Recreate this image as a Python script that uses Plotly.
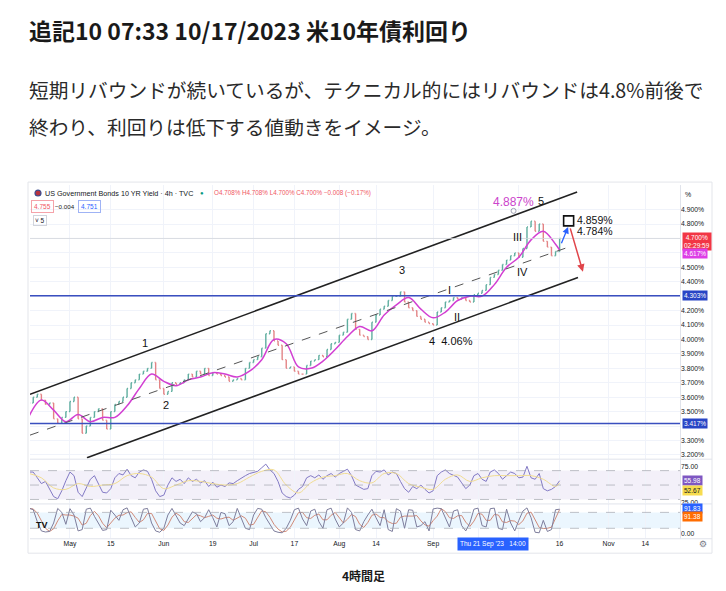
import plotly.graph_objects as go
import pandas as pd

# trading days on the 4h chart (weekends are skipped by the time scale)
days = pd.bdate_range("2023-04-17", "2023-10-16")

# daily closes (%)
closes = [
    3.56, 3.60, 3.62, 3.58, 3.55, 3.56, 3.45, 3.42, 3.46, 3.50,
    3.57, 3.60, 3.45, 3.35, 3.40, 3.46, 3.50, 3.52, 3.44, 3.38,
    3.50, 3.55, 3.57, 3.60, 3.66, 3.70, 3.72, 3.76, 3.78, 3.80,
    3.84, 3.72, 3.66, 3.62, 3.64, 3.70, 3.69, 3.70, 3.72, 3.76,
    3.74, 3.78, 3.76, 3.80, 3.75, 3.77, 3.76, 3.75, 3.74, 3.71,
    3.72, 3.73, 3.72, 3.80, 3.84, 3.86, 3.88, 3.94, 4.04, 4.06,
    3.99, 3.96, 3.86, 3.80, 3.81, 3.78, 3.76, 3.76, 3.82, 3.85,
    3.86, 3.89, 3.88, 3.93, 3.97, 3.98, 4.03, 4.05, 4.14, 4.18,
    4.07, 4.03, 4.02, 4.00, 4.12, 4.17, 4.21, 4.23, 4.27, 4.30,
    4.30, 4.33, 4.26, 4.22, 4.20, 4.16, 4.14, 4.12, 4.11, 4.10,
    4.19, 4.22, 4.26, 4.27, 4.29, 4.28, 4.29, 4.27, 4.26, 4.31,
    4.32, 4.34, 4.38, 4.43, 4.45, 4.48, 4.52, 4.55, 4.58, 4.60,
    4.57, 4.63, 4.78, 4.82, 4.75, 4.80, 4.68, 4.64, 4.58, 4.61, 4.70,
]
first_open = 3.55

# magenta moving average, every 3rd trading day + last bar
ma_values = [
    3.47, 3.58, 3.51, 3.43, 3.48, 3.43, 3.46, 3.46, 3.54, 3.66,
    3.76, 3.71, 3.68, 3.72, 3.74, 3.77, 3.76, 3.74, 3.78, 3.86,
    4.00, 3.97, 3.81, 3.80, 3.85, 3.93, 4.02, 4.09, 4.06, 4.17,
    4.24, 4.29, 4.21, 4.15, 4.19, 4.27, 4.30, 4.30, 4.38, 4.50,
    4.57, 4.69, 4.75, 4.66, 4.62,
]

rsi = [
    68, 68, 60, 52, 55, 44, 34, 31, 42, 56,
    68, 63, 40, 34, 46, 58, 63, 52, 40, 39,
    45, 60, 66, 64, 72, 63, 60, 68, 71, 69,
    58, 42, 34, 36, 50, 60, 55, 58, 52, 60,
    55, 58, 53, 56, 48, 54, 47, 50, 48, 53,
    52, 56, 60, 63, 66, 68, 69, 74, 79, 71,
    66, 55, 39, 34, 32, 36, 44, 48, 60, 63,
    60, 64, 58, 63, 66, 61, 66, 69, 72, 63,
    50, 47, 44, 45, 63, 69, 68, 71, 64, 68,
    66, 55, 45, 40, 48, 45, 50, 44, 39, 42,
    63, 68, 71, 66, 63, 61, 53, 45, 50, 63,
    66, 58, 55, 68, 71, 66, 58, 63, 68, 66,
    60, 61, 76, 60, 58, 66, 45, 42, 44, 48, 56,
]
rsi_ma = [
    66, 60, 46, 44, 52, 48, 50, 52, 63, 66,
    61, 45, 50, 56, 55, 52, 50, 52, 61, 69,
    71, 50, 39, 53, 61, 63, 66, 56, 53, 66,
    66, 52, 47, 44, 58, 64, 55, 60, 63, 63,
    63, 63, 58, 48, 53,
]

stoch_k = [
    96, 90, 45, 10, 6, 8, 40, 95, 80, 35,
    94, 70, 10, 15, 92, 96, 65, 40, 12, 15,
    88, 70, 50, 90, 97, 60, 25, 40, 92, 95,
    40, 10, 5, 20, 70, 95, 65, 40, 30, 55,
    82, 75, 45, 60, 90, 60, 25, 80, 75, 30,
    45, 95, 60, 20, 15, 70, 95, 92, 60, 35,
    10, 5, 3, 20, 50, 90, 96, 55, 30, 85,
    92, 45, 20, 90, 96, 55, 25, 40, 97, 80,
    15, 10, 45, 70, 92, 60, 30, 90, 15, 8,
    94, 85, 20, 90, 88, 25, 30, 45, 10, 93,
    96, 94, 60, 25, 85, 90, 30, 10, 40, 92,
    96, 30, 25, 94, 96, 20, 15, 92, 40, 10,
    50, 85, 97, 60, 5, 3, 50, 8, 15, 90, 92,
]
stoch_d = [
    94, 93, 77, 48, 20, 8, 18, 48, 72, 70,
    70, 66, 58, 32, 39, 68, 84, 67, 39, 22,
    38, 58, 69, 70, 79, 82, 61, 42, 52, 76,
    76, 48, 18, 12, 32, 62, 77, 67, 45, 42,
    56, 71, 67, 60, 65, 70, 58, 55, 60, 62,
    50, 57, 67, 58, 32, 35, 60, 86, 82, 62,
    35, 17, 6, 9, 24, 53, 79, 80, 60, 57,
    69, 74, 52, 52, 69, 80, 59, 40, 54, 72,
    64, 35, 23, 42, 69, 74, 61, 60, 45, 38,
    39, 62, 66, 65, 66, 68, 48, 33, 28, 49,
    66, 94, 83, 60, 57, 67, 68, 43, 27, 47,
    76, 73, 50, 50, 72, 70, 44, 42, 49, 47,
    34, 48, 77, 81, 54, 23, 19, 20, 24, 60, 91,
]

# drawn trend channel: (start, start value, end, end value)
channel_upper = ("2023-04-17 05:00", 3.620, "2023-10-20 07:00", 5.022)
channel_lower = ("2023-05-05 04:00", 3.181, "2023-10-20 12:00", 4.429)
channel_mid = ("2023-04-17 05:00", 3.337, "2023-10-17 19:00", 4.636)
support_levels = [4.303, 3.417]
last_price = 4.700

price_ticks = [3.2, 3.3, 3.4, 3.5, 3.6, 3.7, 3.8, 3.9, 4.0, 4.1,
               4.2, 4.3, 4.4, 4.5, 4.6, 4.7, 4.8, 4.9]
hidden_price_ticks = [3.4, 4.3, 4.6, 4.7]   # covered by the price-scale labels
tick_dates = ["2023-05-01", "2023-05-15", "2023-06-01", "2023-06-19", "2023-07-03",
              "2023-07-17", "2023-08-01", "2023-08-14", "2023-09-01", "2023-09-18",
              "2023-10-02", "2023-10-16", "2023-11-01", "2023-11-14"]
tick_text = ["May", "15", "Jun", "19", "Jul", "17", "Aug", "14", "Sep", "",
             "", "16", "Nov", "14"]

opens = [first_open] + closes[:-1]
highs = [max(o, c) for o, c in zip(opens, closes)]
lows = [min(o, c) for o, c in zip(opens, closes)]
ma_dates = list(days[::3]) + [days[-1]]

W, H = 726, 591
TV = "Liberation Sans"
JP = "Noto Sans CJK JP"


def px(x):
    return x / W


def py(y):
    return 1 - y / H


fig = go.Figure()

fig.add_trace(go.Ohlc(
    x=days, open=opens, high=highs, low=lows, close=closes,
    xaxis="x2", yaxis="y", tickwidth=0.25, hoverinfo="skip", showlegend=False,
    increasing=dict(line=dict(color="#5fae9f", width=1.4)),
    decreasing=dict(line=dict(color="#e38486", width=1.4)),
))
fig.add_trace(go.Scatter(x=ma_dates, y=ma_values, xaxis="x2", yaxis="y", mode="lines",
                         line=dict(color="#d23fd2", width=1.5, shape="spline"),
                         hoverinfo="skip", showlegend=False))

for ch, dash in [(channel_upper, "solid"), (channel_lower, "solid"), (channel_mid, "dash")]:
    fig.add_trace(go.Scatter(x=[ch[0], ch[2]], y=[ch[1], ch[3]], xaxis="x2", yaxis="y",
                             mode="lines", hoverinfo="skip", showlegend=False,
                             line=dict(color="#222" if dash == "solid" else "#555",
                                       width=1.6 if dash == "solid" else 1, dash=dash)))

# 4.887% note marker and the projection box
fig.add_trace(go.Scatter(x=["2023-09-28 17:00"], y=[4.891], xaxis="x2", yaxis="y", mode="markers",
                         marker=dict(symbol="circle-open", size=5, color="#a0a3b5"),
                         hoverinfo="skip", showlegend=False))
fig.add_trace(go.Scatter(x=["2023-10-18 05:00"], y=[4.822], xaxis="x2", yaxis="y", mode="markers",
                         marker=dict(symbol="square-open", size=10, color="#111",
                                     line=dict(width=1.6)),
                         hoverinfo="skip", showlegend=False))

fig.add_trace(go.Scatter(x=days, y=rsi, xaxis="x3", yaxis="y2", mode="lines",
                         line=dict(color="#8279c4", width=1), hoverinfo="skip", showlegend=False))
fig.add_trace(go.Scatter(x=ma_dates, y=rsi_ma, xaxis="x3", yaxis="y2", mode="lines",
                         line=dict(color="#f0dc92", width=1, shape="spline"),
                         hoverinfo="skip", showlegend=False))
fig.add_trace(go.Scatter(x=days, y=stoch_d, xaxis="x", yaxis="y3", mode="lines",
                         line=dict(color="#d08a78", width=1), hoverinfo="skip", showlegend=False))
fig.add_trace(go.Scatter(x=days, y=stoch_k, xaxis="x", yaxis="y3", mode="lines",
                         line=dict(color="#7d7d9c", width=1), hoverinfo="skip", showlegend=False))

shapes = []
for lvl in support_levels:
    shapes.append(dict(type="line", xref="x2 domain", yref="y", x0=0, x1=1, y0=lvl, y1=lvl,
                       line=dict(color="#3a4fbf", width=1.5)))
shapes.append(dict(type="line", xref="x2 domain", yref="y", x0=0, x1=1, y0=last_price, y1=last_price,
                   line=dict(color="#d3d5dc", width=0.8)))
# indicator bands
shapes.append(dict(type="rect", xref="x3 domain", yref="y2", x0=0, x1=1, y0=30, y1=70,
                   fillcolor="rgba(126,87,194,0.09)", line=dict(width=0), layer="below"))
for lvl in [30, 50, 70]:
    shapes.append(dict(type="line", xref="x3 domain", yref="y2", x0=0, x1=1, y0=lvl, y1=lvl,
                       line=dict(color="#a3a6af", width=0.7, dash="dash")))
shapes.append(dict(type="rect", xref="x domain", yref="y3", x0=0, x1=1, y0=20, y1=80,
                   fillcolor="rgba(33,150,243,0.09)", line=dict(width=0), layer="below"))
for lvl in [20, 80]:
    shapes.append(dict(type="line", xref="x domain", yref="y3", x0=0, x1=1, y0=lvl, y1=lvl,
                       line=dict(color="#a3a6af", width=0.7, dash="dash")))
# pane separators and frame
for yy in [461.5, 506.5, 541.5]:
    shapes.append(dict(type="line", xref="paper", yref="paper", x0=px(30), x1=px(712),
                       y0=py(yy), y1=py(yy), line=dict(color="#e0e3eb", width=1)))
shapes.append(dict(type="line", xref="paper", yref="paper", x0=px(680.5), x1=px(680.5),
                   y0=py(186), y1=py(541.5), line=dict(color="#e0e3eb", width=1)))
shapes.append(dict(type="rect", xref="paper", yref="paper", x0=px(28), x1=px(712),
                   y0=py(556), y1=py(183), line=dict(color="#e3e5ea", width=1)))
# flag icon in header
shapes.append(dict(type="circle", xref="paper", yref="paper", x0=px(35), x1=px(41),
                   y0=py(197), y1=py(191), fillcolor="#b8333f", line=dict(color="#3c4d8f", width=1.2)))

ann = []


def note(text, x, y, size, color="#131722", font=TV, xanchor="center", **kw):
    ann.append(dict(text=text, x=x, y=y, xanchor=xanchor, yanchor="middle", showarrow=False,
                    font=dict(family=font, size=size, color=color), **kw))


# page text
note("<b>追記10 07:33 10/17/2023 米10年債利回り</b>", px(27), py(30), 23, "#1a1a1a", JP,
     "left", xref="paper", yref="paper")
note("短期リバウンドが続いているが、テクニカル的にはリバウンドは4.8%前後で", px(27), py(90), 19.7,
     "#2a2a2a", JP, "left", xref="paper", yref="paper")
note("終わり、利回りは低下する値動きをイメージ。", px(27), py(127), 19.7, "#2a2a2a", JP, "left",
     xref="paper", yref="paper")
note("<b>4時間足</b>", px(363), py(578), 12, "#1a1a1a", JP, xref="paper", yref="paper")

# chart header
note("US Government Bonds 10 YR Yield · 4h · TVC", px(43), py(194), 7.2, "#131722", TV, "left",
     xref="paper", yref="paper")
note("●", px(202), py(194), 6, "#089981", TV, xref="paper", yref="paper")
note("O4.708% H4.708% L4.700% C4.700% −0.008 (−0.17%)", px(212), py(194), 6.3, "#f05662", TV,
     "left", xref="paper", yref="paper")
note("4.755", px(42.5), py(208), 6.5, "#f05662", TV, xref="paper", yref="paper",
     bordercolor="#f5a3aa", borderwidth=1, borderpad=2)
note("−0.004", px(65), py(208), 6.2, "#131722", TV, xref="paper", yref="paper")
note("4.751", px(89), py(208), 6.5, "#2962ff", TV, xref="paper", yref="paper",
     bordercolor="#9fb3f5", borderwidth=1, borderpad=2)
note("˅ 5", px(40), py(222), 6.5, "#131722", TV, xref="paper", yref="paper",
     bordercolor="#d1d4dc", borderwidth=1, borderpad=1)
note("%", px(688), py(195), 7, "#131722", TV, xref="paper", yref="paper")

# wave counts and notes on the price pane
waves = [("1", "2023-05-25 09:00", 3.974), ("2", "2023-06-01 12:00", 3.546),
         ("3", "2023-08-22 10:00", 4.484), ("4  4.06%", "2023-09-07 10:00", 3.988),
         ("I", "2023-09-07 02:00", 4.346), ("II", "2023-09-08 21:00", 4.153),
         ("III", "2023-09-29 19:00", 4.712), ("IV", "2023-10-02 19:00", 4.470),
         ("5", "2023-10-09 10:00", 4.960)]
for t, xd, yv in waves:
    note(t, xd, yv, 11, "#111", TV, xref="x2", yref="y")
note("4.887%", "2023-09-28 14:00", 4.953, 12, "#cc44cc", TV, xref="x2", yref="y")
note("4.859%", "2023-10-19 19:00", 4.830, 10.5, "#111", TV, "left", xref="x2", yref="y")
note("4.784%", "2023-10-19 19:00", 4.749, 10.5, "#111", TV, "left", xref="x2", yref="y")

ann.append(dict(x="2023-10-18 02:00", y=4.78, ax="2023-10-16 07:00", ay=4.657, xref="x2", yref="y",
                axref="x2", ayref="y", showarrow=True, arrowhead=2, arrowsize=1, arrowwidth=1.3,
                arrowcolor="#2962ff", text=""))
ann.append(dict(x="2023-10-23 17:00", y=4.47, ax="2023-10-18 12:00", ay=4.78, xref="x2", yref="y",
                axref="x2", ayref="y", showarrow=True, arrowhead=2, arrowsize=1, arrowwidth=1.5,
                arrowcolor="#e0454a", text=""))


# price-scale labels
def scale_label(text, yref, yv, bg, fg="white", yshift=0):
    ann.append(dict(text=text, x=px(682), y=yv, xref="paper", yref=yref, xanchor="left",
                    yanchor="middle", showarrow=False, bgcolor=bg, borderpad=1, yshift=yshift,
                    font=dict(family=TV, size=6.5, color=fg)))


scale_label("4.700%<br>02:29:59", "y", last_price, "#f23645", yshift=-3)
scale_label("4.617%", "y", ma_values[-1], "#dd3fe6", yshift=-4)
for lvl in support_levels:
    scale_label("%.3f%%" % lvl, "y", lvl, "#2845c5")
scale_label("55.98", "y2", rsi[-1], "#7e57c2")
scale_label("52.67", "y2", 52.67, "#f7dc4f", fg="#131722", yshift=-7)
scale_label("91.83", "y3", stoch_k[-1], "#2962ff", yshift=1)
scale_label("91.38", "y3", stoch_d[-1], "#ff6d00", yshift=-7)

note("Thu 21 Sep '23   14:00", px(493), py(547), 6.5, "white", TV, xref="paper", yref="paper",
     bgcolor="#2962ff", borderpad=2)
note("⚙", px(703), py(547), 9, "#787b86", "DejaVu Sans", xref="paper", yref="paper")
note("<b>TV</b>", px(42), py(528), 9, "#111", TV, xref="paper", yref="paper")

xcommon = dict(type="date", rangebreaks=[dict(bounds=["sat", "mon"])],
               range=["2023-04-17 05:00", "2023-11-24 12:00"], domain=[px(30), px(680)],
               tickvals=tick_dates, showgrid=True, gridcolor="#f0f3fa", gridwidth=1,
               zeroline=False, showline=False, ticks="", rangeslider=dict(visible=False))
ycommon = dict(side="right", zeroline=False, showline=False, ticks="",
               tickfont=dict(family=TV, size=6.8, color="#131722"))

fig.update_layout(
    width=W, height=H, margin=dict(l=0, r=0, t=0, b=0),
    paper_bgcolor="white", plot_bgcolor="white", showlegend=False,
    xaxis=dict(xcommon, anchor="y3", ticktext=tick_text,
               tickfont=dict(family=TV, size=6.8, color="#131722")),
    xaxis2=dict(xcommon, anchor="y", matches="x", showticklabels=False),
    xaxis3=dict(xcommon, anchor="y2", matches="x", showticklabels=False),
    yaxis=dict(ycommon, anchor="x2", domain=[py(461), py(186)], range=[3.174, 5.07],
               tickvals=price_ticks,
               ticktext=["" if v in hidden_price_ticks else "%.3f%%" % v for v in price_ticks],
               showgrid=True, gridcolor="#f0f3fa"),
    yaxis2=dict(ycommon, anchor="x3", domain=[py(506), py(462)], range=[24.5, 85.2],
                tickvals=[25, 75], ticktext=["25.00", "75.00"], showgrid=False),
    yaxis3=dict(ycommon, anchor="x", domain=[py(541), py(507)], range=[-17.6, 110],
                tickvals=[0], ticktext=["0.00"], showgrid=False),
    shapes=shapes, annotations=ann,
)

fig.write_html("out.html", config={"displayModeBar": False},
               post_script="document.body.style.margin = '0';")
